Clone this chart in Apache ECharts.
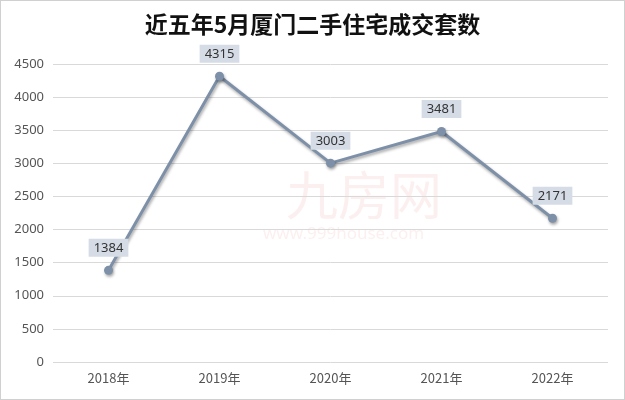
<!DOCTYPE html>
<html><head><meta charset="utf-8">
<script src="https://cdn.jsdelivr.net/npm/echarts@6/dist/echarts.min.js"></script>
<style>html,body{margin:0;padding:0;background:#fff}#c{width:623px;height:398px;border:1px solid #d0d0d0}</style>
</head><body><div id="c"></div>
<script>
var title = '近五年5月厦门二手住宅成交套数';
var categories = ['2018年','2019年','2020年','2021年','2022年'];
var values = [1384, 4315, 3003, 3481, 2171];
var yTicks = [0, 500, 1000, 1500, 2000, 2500, 3000, 3500, 4000, 4500];

var chart = echarts.init(document.getElementById('c'));
chart.setOption({
  animation: false,
  title: {text: title, left: 'center', top: 7,
    textStyle: {fontFamily: 'Noto Sans CJK SC', fontWeight: 'bold', fontSize: 23, color: '#111'}},
  graphic: [
    {type: 'text', left: 285, top: 168, style: {text: '九房网', fontSize: 52, fill: 'rgba(230,120,120,0.12)', fontFamily: 'Noto Sans CJK SC'}},
    {type: 'text', left: 262, top: 225, style: {text: 'www.999house.com', fontSize: 17, fill: 'rgba(230,120,120,0.12)', fontFamily: 'Noto Sans', letterSpacing: 2}}
  ],
  grid: {left: 52, right: 16, top: 63, bottom: 37},
  xAxis: {type: 'category', data: categories, boundaryGap: true,
    axisLine: {show: false}, axisTick: {show: false},
    axisLabel: {color: '#555', fontSize: 13, margin: 10, fontFamily: 'Noto Sans CJK SC'}},
  yAxis: {type: 'value', min: yTicks[0], max: yTicks[yTicks.length-1], interval: 500,
    axisLine: {show: false}, axisTick: {show: false},
    axisLabel: {color: '#555', fontSize: 13, margin: 9, fontFamily: 'Noto Sans', formatter: function(v){return String(v);}},
    splitLine: {lineStyle: {color: '#d9d9d9', width: 1}}},
  series: [{
    type: 'line', data: values, symbol: 'circle', symbolSize: 9,
    lineStyle: {color: '#7d90a8', width: 3, shadowColor: 'rgba(0,0,0,0.35)', shadowBlur: 3, shadowOffsetX: 1, shadowOffsetY: 2},
    itemStyle: {color: '#7d90a8', shadowColor: 'rgba(0,0,0,0.35)', shadowBlur: 3, shadowOffsetX: 1, shadowOffsetY: 2},
    label: {show: true, position: 'top', distance: 9, color: '#333', fontSize: 13, fontFamily: 'Noto Sans',
      backgroundColor: '#d5dce6', padding: [3, 5, 2, 5]}
  }]
});
</script></body></html>
